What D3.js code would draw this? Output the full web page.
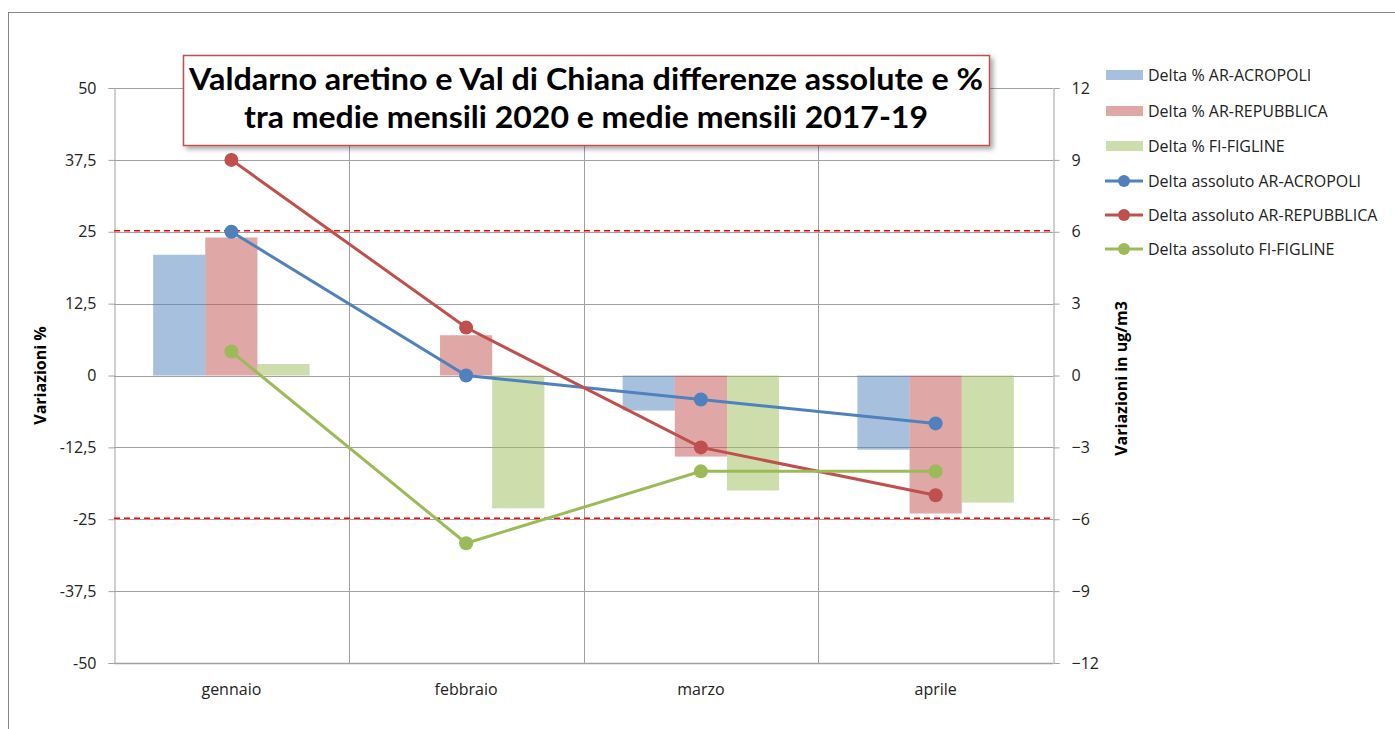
<!DOCTYPE html>
<html>
  <head>
    <meta charset="utf-8">
    <title>Valdarno aretino e Val di Chiana</title>
    <script src="https://d3js.org/d3.v7.min.js"></script>
    <style>
      body { margin: 0; background: #fff; }
      svg { display: block; font-family: "Open Sans", sans-serif; }
    </style>
  </head>
  <body>
    <svg id="chart" width="1395" height="729"></svg>
    <script>
      // data
      const months = ["gennaio", "febbraio", "marzo", "aprile"];
      const barSeries = ["Delta % AR-ACROPOLI", "Delta % AR-REPUBBLICA", "Delta % FI-FIGLINE"];
      const lineSeries = ["Delta assoluto AR-ACROPOLI", "Delta assoluto AR-REPUBBLICA", "Delta assoluto FI-FIGLINE"];
      const pctAcropoli = [21, 0, -6.1, -12.9];
      const pctRepubblica = [24, 7, -14.1, -24];
      const pctFigline = [2, -23.1, -20, -22.1];
      const absAcropoli = [6, 0, -1, -2];
      const absRepubblica = [9, 2, -3, -5];
      const absFigline = [1, -7, -4, -4];
      const leftTicks = [50, 37.5, 25, 12.5, 0, -12.5, -25, -37.5, -50];
      const rightTicks = [12, 9, 6, 3, 0, -3, -6, -9, -12];
      const thresholds = [25, -25];
      const colors = ["#4f81bd", "#c0504d", "#9bbb59"];

      const bars = [pctAcropoli, pctRepubblica, pctFigline];
      const lines = [absAcropoli, absRepubblica, absFigline];

      const svg = d3.select("#chart");
      const margin = { left: 114, right: 1053, top: 88, bottom: 663 };
      const fs = "16px";

      // outer chart border
      svg.append("rect")
        .attr("x", 8.5).attr("y", 12.5)
        .attr("width", 1400).attr("height", 740)
        .attr("fill", "#fff").attr("stroke", "#868686");

      const x = d3.scaleBand().domain(months).range([margin.left, margin.right]).padding(0);
      const yL = d3.scaleLinear().domain([-50, 50]).range([margin.bottom, margin.top]);
      const yR = d3.scaleLinear().domain([-12, 12]).range([margin.bottom, margin.top]);

      // grid
      const grid = svg.append("g");
      grid.selectAll(".h").data(leftTicks).enter().append("line")
        .attr("x1", margin.left).attr("x2", margin.right)
        .attr("y1", d => Math.round(yL(d)) + 0.5).attr("y2", d => Math.round(yL(d)) + 0.5)
        .attr("stroke", "#a0a0a0").attr("stroke-width", 1);
      grid.selectAll(".v").data(months.slice(1)).enter().append("line")
        .attr("x1", d => Math.round(x(d)) + 0.5).attr("x2", d => Math.round(x(d)) + 0.5)
        .attr("y1", margin.top).attr("y2", margin.bottom)
        .attr("stroke", "#a0a0a0");

      // axes
      const leftAxis = d3.axisLeft(yL).tickValues(leftTicks).tickSize(6).tickPadding(12)
        .tickFormat(d => String(d).replace(".", ","));
      const gl = svg.append("g").attr("transform", "translate(" + (margin.left + 0.5) + ",0)").call(leftAxis);
      const rightAxis = d3.axisRight(yR).tickValues(rightTicks).tickSize(6).tickPadding(12);
      const gr = svg.append("g").attr("transform", "translate(" + (margin.right + 0.5) + ",0)").call(rightAxis);
      [gl, gr].forEach(g => {
        g.select(".domain").attr("stroke", "#a0a0a0");
        g.selectAll(".tick line").attr("stroke", "#a0a0a0");
        g.selectAll(".tick text").attr("fill", "#222").style("font-size", fs).style("font-family", "'Open Sans', sans-serif");
      });
      svg.append("line")
        .attr("x1", margin.left).attr("x2", margin.right)
        .attr("y1", margin.bottom + 0.5).attr("y2", margin.bottom + 0.5)
        .attr("stroke", "#a0a0a0").attr("stroke-width", 1.5);

      svg.selectAll(".month").data(months).enter().append("text")
        .attr("x", d => x(d) + x.bandwidth() / 2).attr("y", 695)
        .attr("text-anchor", "middle").attr("fill", "#222")
        .style("font-size", fs).text(d => d);

      svg.append("text")
        .attr("transform", "translate(46," + yL(0) + ") rotate(-90)")
        .attr("text-anchor", "middle").style("font-size", fs).style("font-weight", "bold")
        .text("Variazioni %");
      svg.append("text")
        .attr("transform", "translate(1127," + (yL(0) + 3) + ") rotate(-90)")
        .attr("text-anchor", "middle").style("font-size", fs).style("font-weight", "bold")
        .text("Variazioni in ug/m3");

      // bars (gap width 150% of a bar, Excel style)
      const barW = x.bandwidth() / 4.5;
      const offset = (x.bandwidth() - barW * 3) / 2;
      bars.forEach((vals, s) => {
        svg.append("g").selectAll("rect").data(vals).enter().append("rect")
          .attr("x", (d, i) => x(months[i]) + offset + s * barW)
          .attr("width", barW)
          .attr("y", d => Math.min(yL(d), yL(0)))
          .attr("height", d => Math.abs(yL(d) - yL(0)))
          .attr("fill", colors[s]).attr("fill-opacity", 0.5);
      });

      // threshold lines
      svg.selectAll(".thr").data(thresholds).enter().append("line")
        .attr("x1", margin.left).attr("x2", margin.right)
        .attr("y1", d => yL(d) - 1).attr("y2", d => yL(d) - 1)
        .attr("stroke", "#ff0000").attr("stroke-width", 1.5).attr("stroke-dasharray", "6,4");

      // lines
      const line = d3.line().x((d, i) => x(months[i]) + x.bandwidth() / 2).y(d => yR(d));
      lines.forEach((vals, s) => {
        const g = svg.append("g");
        g.append("path").attr("d", line(vals)).attr("fill", "none")
          .attr("stroke", colors[s]).attr("stroke-width", 3);
        g.selectAll("circle").data(vals).enter().append("circle")
          .attr("cx", (d, i) => x(months[i]) + x.bandwidth() / 2).attr("cy", d => yR(d))
          .attr("r", 7).attr("fill", colors[s]);
      });

      // title box
      const defs = svg.append("defs");
      const f = defs.append("filter").attr("id", "shadow").attr("x", "-5%").attr("y", "-20%").attr("width", "115%").attr("height", "150%");
      f.append("feDropShadow").attr("dx", 3).attr("dy", 3).attr("stdDeviation", 2.5).attr("flood-color", "#000").attr("flood-opacity", 0.35);
      svg.append("rect")
        .attr("x", 183.5).attr("y", 55.5).attr("width", 806).attr("height", 90)
        .attr("fill", "#fff").attr("stroke", "#c0504d").attr("stroke-width", 1.5)
        .attr("filter", "url(#shadow)");
      const titleLines = ["Valdarno aretino e Val di Chiana differenze assolute e %", "tra medie mensili 2020 e medie mensili 2017-19"];
      const titleWidths = [794, 684];
      svg.selectAll(".title").data(titleLines).enter().append("text")
        .attr("x", 586).attr("y", (d, i) => 90 + i * 38)
        .attr("text-anchor", "middle").style("font-family", "Lato, sans-serif")
        .style("font-size", "30px").style("font-weight", "bold")
        .attr("textLength", (d, i) => titleWidths[i]).attr("lengthAdjust", "spacingAndGlyphs")
        .attr("fill", "#000").text(d => d);

      // legend
      const legendItems = barSeries.map((n, i) => ({ name: n, type: "bar", c: colors[i] }))
        .concat(lineSeries.map((n, i) => ({ name: n, type: "line", c: colors[i] })));
      const lg = svg.append("g");
      const rowY = [75, 111, 146, 181, 215, 249];
      legendItems.forEach((d, i) => {
        const g = lg.append("g").attr("transform", "translate(0," + rowY[i] + ")");
        if (d.type === "bar") {
          g.append("rect").attr("x", 1106).attr("y", -5).attr("width", 37).attr("height", 10)
            .attr("fill", d.c).attr("fill-opacity", 0.5);
        } else {
          g.append("line").attr("x1", 1105).attr("x2", 1143).attr("y1", 0).attr("y2", 0)
            .attr("stroke", d.c).attr("stroke-width", 3);
          g.append("circle").attr("cx", 1124).attr("cy", 0).attr("r", 6).attr("fill", d.c);
        }
        g.append("text").attr("x", 1148).attr("y", 6).style("font-size", fs).attr("fill", "#222").text(d.name);
      });
    </script>
  </body>
</html>
